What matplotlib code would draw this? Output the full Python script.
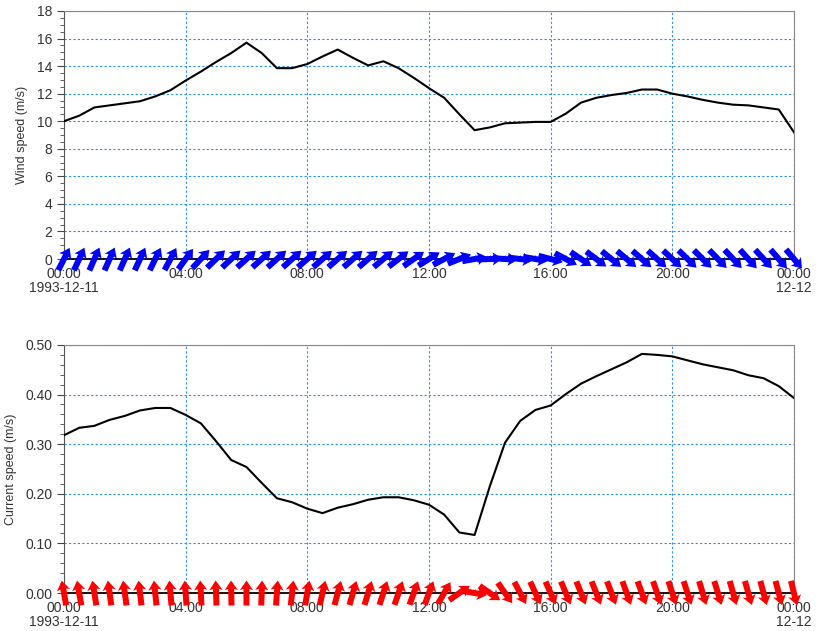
import numpy as np
import matplotlib.pyplot as plt
from matplotlib.ticker import MultipleLocator

plt.rcParams['font.family'] = ['Liberation Sans', 'DejaVu Sans']

# half-hourly samples, 1993-12-11 00:00 to 12-12 00:00
hours = np.arange(0, 24.01, 0.5)

wind_speed = [10.0, 10.4, 11.0, 11.15, 11.3, 11.45, 11.8, 12.25, 12.95, 13.6,
              14.3, 14.95, 15.7, 14.95, 13.85, 13.85, 14.15, 14.7, 15.2, 14.6,
              14.05, 14.35, 13.85, 13.15, 12.4, 11.7, 10.5, 9.35, 9.55, 9.85,
              9.9, 9.95, 9.95, 10.55, 11.35, 11.7, 11.9, 12.05, 12.3, 12.3,
              12.0, 11.8, 11.55, 11.35, 11.2, 11.15, 11.0, 10.85, 9.2]

# direction the arrow points, degrees counter-clockwise from east
wind_dir = [63, 65, 66, 66, 66, 65, 64, 62, 54, 47,
            44, 43, 42, 42, 42, 42, 41, 41, 41, 41,
            41, 40, 38, 35, 32, 28, 22, 10, 2, -4,
            -7, -10, -15, -28, -34, -37, -39, -40, -41, -42,
            -43, -44, -45, -46, -47, -48, -48, -49, -50]

current_speed = [0.318, 0.333, 0.337, 0.349, 0.357, 0.368, 0.373, 0.373, 0.359, 0.342,
                 0.306, 0.268, 0.254, 0.222, 0.191, 0.183, 0.170, 0.161, 0.172, 0.179,
                 0.188, 0.193, 0.193, 0.187, 0.178, 0.158, 0.122, 0.117, 0.215, 0.303,
                 0.347, 0.369, 0.378, 0.401, 0.422, 0.437, 0.451, 0.465, 0.482, 0.480,
                 0.477, 0.469, 0.461, 0.455, 0.449, 0.439, 0.433, 0.417, 0.393]

current_dir = [100, 100, 99, 98, 98, 97, 96, 95, 94, 93,
               92, 91, 90, 88, 86, 84, 80, 77, 75, 74,
               73, 72, 71, 70, 70, 60, 35, -10, -35, -55,
               -62, -65, -66, -67, -68, -68, -69, -70, -70, -71,
               -72, -72, -73, -73, -74, -74, -75, -75, -76]

xtick_labels = ["00:00\n1993-12-11", "04:00", "08:00", "12:00", "16:00", "20:00", "00:00\n12-12"]

GRID = '#2a8ff0'
TXT = '#333333'
ARROW_LEN = 25  # pixels


def style_axis(ax, ymax, ymajor, yminor, fmt):
    ax.set_xlim(0, 24)
    ax.set_ylim(0, ymax)
    ax.set_xticks(np.arange(0, 24.01, 4))
    ax.set_xticklabels(xtick_labels, linespacing=1.0)
    ax.xaxis.set_minor_locator(MultipleLocator(0.5))
    ax.yaxis.set_major_locator(MultipleLocator(ymajor))
    ax.yaxis.set_minor_locator(MultipleLocator(yminor))
    ax.yaxis.set_major_formatter(fmt)
    ax.grid(True, which='major', color=GRID, linestyle=(0, (2, 2)), linewidth=0.8)
    ax.tick_params(axis='both', which='major', labelsize=10, colors='#444444',
                   labelcolor=TXT, length=5, direction='out')
    ax.tick_params(axis='both', which='minor', length=3, colors='#444444')
    ax.tick_params(axis='x', which='both', direction='in', pad=6)
    for s in ['top', 'right']:
        ax.spines[s].set_color('#888888')
    ax.spines['left'].set_color('#555555')
    ax.spines['bottom'].set_color('black')
    ax.spines['bottom'].set_linewidth(1.3)


def draw_arrows(ax, directions, color):
    ang = np.radians(directions)
    u = ARROW_LEN * np.cos(ang)
    v = ARROW_LEN * np.sin(ang)
    ax.quiver(hours, np.zeros_like(hours), u, v, angles='uv', scale_units='dots',
              scale=1, units='dots', width=6, headwidth=2.2, headlength=1.6,
              headaxislength=1.4, pivot='middle', color=color, clip_on=False, zorder=5)


fig = plt.figure(figsize=(8.16, 6.31), dpi=100)
ax1 = fig.add_axes([0.0784, 0.5895, 0.8946, 0.3931])
ax2 = fig.add_axes([0.0784, 0.0602, 0.8946, 0.3931])

ax1.plot(hours, wind_speed, color='black', linewidth=1.5, zorder=4)
style_axis(ax1, 18, 2, 0.5, '{x:g}')
ax1.set_ylabel('Wind speed (m/s)', fontsize=9, color=TXT, labelpad=6)
draw_arrows(ax1, wind_dir, '#0000ff')

ax2.plot(hours, current_speed, color='black', linewidth=1.5, zorder=4)
style_axis(ax2, 0.5, 0.1, 0.02, '{x:.2f}')
ax2.set_ylabel('Current speed (m/s)', fontsize=9, color=TXT, labelpad=6)
draw_arrows(ax2, current_dir, '#ff0000')

fig.savefig('out.png', dpi=100)
